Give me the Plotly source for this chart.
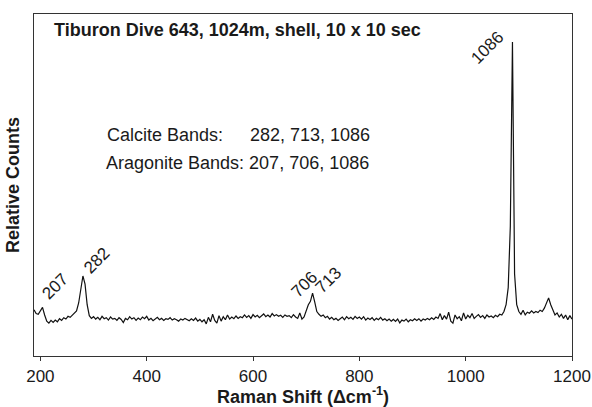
import plotly.graph_objects as go

# Raman shift grid (cm^-1), 4 cm^-1 steps from 188 to 1200
shift = list(range(188, 1201, 4))

# Relative counts (axis 0..100)
counts = [
    13.5, 12.4, 12.2, 13.2, 14.2, 12.0, 10.2, 9.6, 10.4, 9.8,      # 188-224
    10.5, 10.0, 10.9, 10.4, 11.2, 10.8, 11.6, 11.3, 12.0, 12.5,    # 228-264
    13.2, 15.5, 20.0, 23.4, 21.0, 15.0, 11.8, 11.0, 11.5, 10.8,    # 268-304
    11.3, 10.6, 11.6, 10.9, 11.2, 10.5, 11.4, 10.8, 11.0, 10.4,    # 308-344
    11.2, 10.7, 9.8, 11.0, 10.6, 11.5, 10.8, 11.2, 10.4, 11.1,     # 348-384
    10.6, 11.4, 10.9, 11.6, 10.5, 11.0, 10.3, 10.8, 11.3, 10.6,    # 388-424
    11.0, 10.4, 10.9, 10.7, 11.2, 10.5, 10.9, 10.6, 10.2, 10.8,    # 428-464
    10.5, 11.0, 10.6, 10.3, 10.9, 10.4, 11.1, 10.2, 10.7, 10.0,    # 468-504
    10.6, 9.4, 11.3, 10.0, 12.2, 10.4, 9.6, 11.8, 10.2, 11.5,      # 508-544
    10.6, 12.0, 10.8, 11.4, 10.9, 11.7, 11.0, 11.5, 11.2, 12.0,    # 548-584
    11.3, 11.8, 11.0, 12.1, 11.4, 11.9, 11.2, 11.7, 12.3, 11.5,    # 588-624
    12.0, 11.4, 12.4, 11.7, 12.1, 11.6, 11.9, 11.3, 12.0, 11.6,    # 628-664
    11.8, 11.2, 12.1, 11.4, 11.0, 12.6, 10.8, 11.4, 13.5, 15.0,    # 668-704
    16.0, 18.4, 15.8, 13.0, 12.2, 11.6, 12.0, 11.2, 11.6, 10.8,    # 708-744
    11.3, 10.6, 11.0, 10.4, 10.9, 11.4, 10.6, 11.5, 10.9, 11.3,    # 748-784
    10.7, 11.6, 11.0, 11.4, 10.8, 11.5, 10.5, 11.1, 10.7, 11.2,    # 788-824
    10.4, 11.0, 10.6, 11.3, 10.5, 10.9, 10.3, 10.8, 10.2, 10.7,    # 828-864
    10.1, 10.8, 9.7, 10.5, 10.2, 10.8, 10.0, 10.6, 10.3, 10.9,     # 868-904
    10.4, 10.9, 10.2, 10.8, 10.5, 11.0, 10.6, 11.2, 10.7, 11.4,    # 908-944
    11.0, 12.4, 10.6, 11.8, 10.8, 12.8, 10.2, 9.6, 12.0, 10.9,     # 948-984
    11.5, 10.3, 12.6, 10.8, 11.9, 11.2, 12.4, 11.0, 11.6, 12.1,    # 988-1024
    11.3, 11.8, 11.0, 12.0, 11.4, 11.7, 11.2, 11.9, 11.5, 12.2,    # 1028-1064
    12.0, 13.0, 15.0, 20.0, 38.0, 91.8, 24.0, 15.0, 13.0, 12.2,    # 1068-1104
    13.4, 12.0, 12.8, 12.5, 13.2, 12.6, 13.0, 12.7, 13.4, 13.0,    # 1108-1144
    14.0, 15.5, 17.0, 15.0, 13.2, 12.0, 12.6, 11.4, 12.2, 11.0,    # 1148-1184
    12.0, 10.6, 11.8, 10.8,                                        # 1188-1200
]

tick_vals = [200, 400, 600, 800, 1000, 1200]
tick_text = ["200", "400", "600", "800", "1000", "1200"]

# band labels: (band, label, xshift px, yshift px)
band_labels = [(207, "207", 11, 21), (282, "282", 13, 15), (706, "706", -5, 17),
               (713, "713", 15, 13), (1086, "1086", -24, -5)]

FONT = "Arial, 'Liberation Sans', Helvetica, sans-serif"
INK = "#1a1a1a"

fig = go.Figure()
fig.add_trace(go.Scatter(x=shift, y=counts, mode="lines",
                         line=dict(color="#111111", width=1.2),
                         hoverinfo="skip", showlegend=False))

def peak_y(band, win=4):
    vals = [c for s, c in zip(shift, counts) if abs(s - band) <= win]
    return max(vals)

annotations = []
for band, lab, dx, dy in band_labels:
    annotations.append(dict(x=band, y=peak_y(band), xref="x", yref="y", text=lab,
                            textangle=-45, showarrow=False, xanchor="center",
                            yanchor="middle", xshift=dx, yshift=dy,
                            font=dict(family=FONT, size=17, color=INK)))

annotations += [
    dict(x=0.0335, y=0.953, xref="paper", yref="paper", xanchor="left", yanchor="middle",
         text="<b>Tiburon Dive 643, 1024m, shell, 10 x 10 sec</b>", showarrow=False,
         font=dict(family=FONT, size=18, color=INK)),
    dict(x=(105 - 34) / 538, y=(356 - 135) / 342, xref="paper", yref="paper",
         xanchor="left", yanchor="middle", text="Calcite Bands:", showarrow=False,
         font=dict(family=FONT, size=18, color=INK)),
    dict(x=(248 - 34) / 538, y=(356 - 135) / 342, xref="paper", yref="paper",
         xanchor="left", yanchor="middle", text="282, 713, 1086", showarrow=False,
         font=dict(family=FONT, size=18, color=INK)),
    dict(x=(104 - 34) / 538, y=(356 - 163) / 342, xref="paper", yref="paper",
         xanchor="left", yanchor="middle", text="Aragonite Bands: 207, 706, 1086",
         showarrow=False, font=dict(family=FONT, size=18, color=INK)),
]

fig.update_layout(
    width=592, height=407,
    margin=dict(l=34, r=20, t=14, b=51, autoexpand=False),
    paper_bgcolor="white", plot_bgcolor="white",
    font=dict(family=FONT, color=INK),
    annotations=annotations,
    xaxis=dict(range=[188, 1200], tickvals=tick_vals, ticktext=tick_text,
               ticks="outside", ticklen=4, tickwidth=1.3, tickcolor="#333333",
               showline=True, linecolor="#333333", linewidth=1.3, mirror=True,
               showgrid=False, zeroline=False,
               tickfont=dict(family=FONT, size=17, color=INK),
               title=dict(text="<b>Raman Shift (Δcm<sup>-1</sup>)</b>",
                          font=dict(family=FONT, size=18, color=INK), standoff=4)),
    yaxis=dict(range=[0, 100], showticklabels=False, ticks="",
               showline=True, linecolor="#333333", linewidth=1.3, mirror=True,
               showgrid=False, zeroline=False,
               title=dict(text="<b>Relative Counts</b>",
                          font=dict(family=FONT, size=18, color=INK), standoff=8)),
)

fig.write_html("out.html", config={"displayModeBar": False},
               post_script="document.body.style.margin='0';document.body.style.padding='0';")
